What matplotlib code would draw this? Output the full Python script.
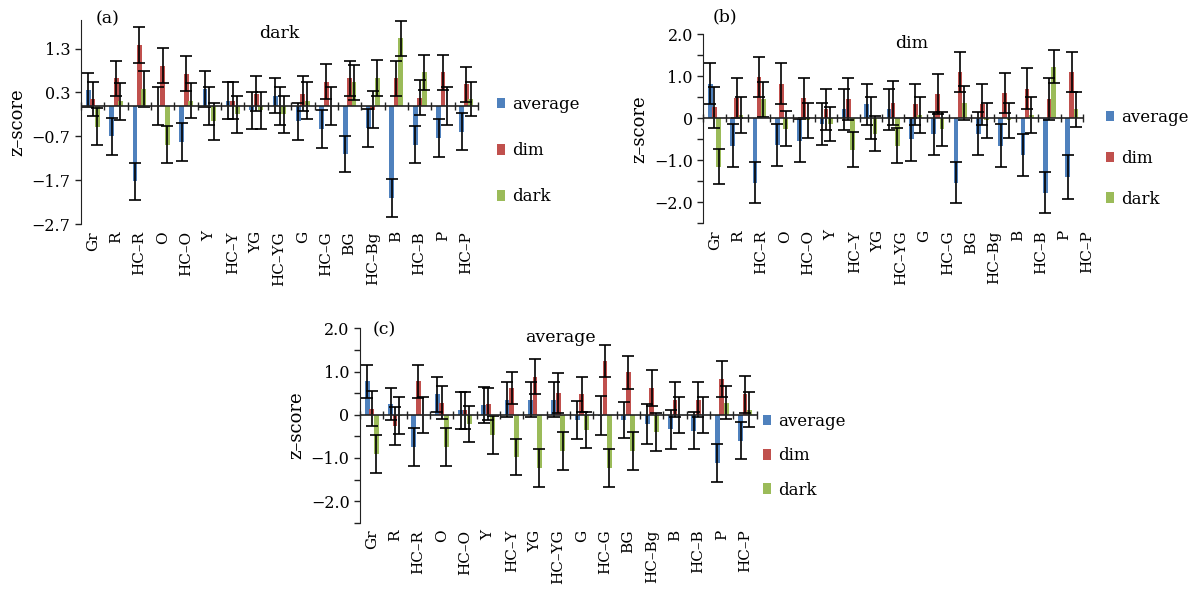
import numpy as np
import matplotlib.pyplot as plt
import matplotlib.transforms as mtransforms

plt.rcParams['font.family'] = ['DejaVu Serif']

categorias = ['Gr', 'R', 'HC–R', 'O', 'HC–O', 'Y', 'HC–Y', 'YG', 'HC–YG', 'G',
              'HC–G', 'BG', 'HC–Bg', 'B', 'HC–B', 'P', 'HC–P']
series = ['average', 'dim', 'dark']
cores = ['#4F81BD', '#C0504D', '#9BBB59']

# (a) dark
avg_a = [0.36, -0.70, -1.72, 0.00, -0.83, 0.38, 0.11, -0.10, 0.23, -0.36, -0.53, -1.10, -0.50, -2.10, -0.89, -0.74, -0.59]
dim_a = [0.15, 0.62, 1.38, 0.91, 0.73, 0.00, 0.11, 0.27, 0.00, 0.27, 0.55, 0.62, -0.09, 0.62, 0.18, 0.76, 0.49]
dark_a = [-0.48, 0.10, 0.38, -0.89, 0.11, -0.36, -0.20, -0.10, -0.20, 0.11, 0.00, 0.53, 0.64, 1.53, 0.76, 0.00, 0.15]
err_avg_a = [0.39, 0.43, 0.42, 0.43, 0.43, 0.41, 0.42, 0.42, 0.40, 0.42, 0.43, 0.42, 0.43, 0.44, 0.42, 0.43, 0.43]
err_dim_a = [0.39, 0.40, 0.40, 0.40, 0.40, 0.43, 0.42, 0.40, 0.43, 0.40, 0.40, 0.40, 0.42, 0.40, 0.40, 0.40, 0.40]
err_dark_a = [0.42, 0.42, 0.41, 0.42, 0.40, 0.42, 0.43, 0.42, 0.43, 0.42, 0.43, 0.40, 0.41, 0.40, 0.40, 0.43, 0.39]

# (b) dim
avg_b = [0.82, -0.65, -1.53, -0.63, -0.53, -0.13, 0.21, 0.33, 0.21, -0.50, -0.37, -1.53, -0.37, -0.65, -0.87, -1.77, -1.39]
dim_b = [0.26, 0.49, 0.98, 0.82, 0.49, 0.21, 0.46, 0.00, 0.36, 0.33, 0.58, 1.10, 0.33, 0.61, 0.70, 0.46, 1.10]
dark_b = [-1.15, 0.08, 0.45, -0.25, -0.05, -0.13, -0.75, -0.37, -0.65, 0.08, -0.25, 0.36, -0.05, -0.05, 0.08, 1.23, 0.21]
err_avg_b = [0.49, 0.52, 0.49, 0.50, 0.51, 0.50, 0.48, 0.48, 0.48, 0.51, 0.51, 0.49, 0.51, 0.52, 0.50, 0.49, 0.52]
err_dim_b = [0.49, 0.48, 0.48, 0.49, 0.48, 0.48, 0.51, 0.50, 0.52, 0.48, 0.48, 0.48, 0.48, 0.48, 0.49, 0.51, 0.48]
err_dark_b = [0.41, 0.42, 0.42, 0.42, 0.42, 0.41, 0.42, 0.42, 0.42, 0.42, 0.41, 0.41, 0.42, 0.42, 0.42, 0.40, 0.42]

# (c) average
avg_c = [0.77, 0.25, -0.75, 0.47, 0.10, 0.22, 0.35, 0.35, 0.35, -0.12, -0.02, -0.13, -0.22, -0.34, -0.37, -1.12, -0.60]
dim_c = [0.14, -0.25, 0.77, 0.28, 0.10, 0.25, 0.62, 0.88, 0.50, 0.47, 1.25, 0.98, 0.62, 0.35, 0.35, 0.83, 0.47]
dark_c = [-0.90, -0.02, 0.00, -0.75, -0.22, -0.48, -0.98, -1.23, -0.85, -0.36, -1.23, -0.85, -0.40, 0.00, 0.00, 0.28, 0.12]
err_avg_c = [0.38, 0.38, 0.44, 0.40, 0.42, 0.42, 0.40, 0.40, 0.40, 0.44, 0.45, 0.42, 0.46, 0.46, 0.43, 0.44, 0.43]
err_dim_c = [0.41, 0.44, 0.38, 0.38, 0.42, 0.38, 0.38, 0.41, 0.46, 0.40, 0.37, 0.38, 0.41, 0.40, 0.40, 0.41, 0.42]
err_dark_c = [0.44, 0.42, 0.42, 0.44, 0.42, 0.44, 0.42, 0.44, 0.44, 0.42, 0.44, 0.44, 0.44, 0.42, 0.42, 0.38, 0.40]

ticks_a = [1.3, 0.3, -0.7, -1.7, -2.7]
ticks_bc = [2.0, 1.0, 0.0, -1.0, -2.0]
rotulos_bc = ['2.0', '1.0', '0', '−1.0', '−2.0']


def painel(ax, valores, erros, titulo, letra, pos_titulo, pos_letra, esticar=None):
    x = np.arange(len(categorias))
    larg = 0.21
    for i, (v, e) in enumerate(zip(valores, erros)):
        xi = x + (i - 1) * 0.19
        ax.bar(xi, v, larg, color=cores[i], label=series[i], zorder=2)
        ax.errorbar(xi, v, yerr=e, fmt='none', ecolor='black', elinewidth=1.2,
                    capsize=4, capthick=1.2, zorder=3)
    # eixo x no zero, com marcas entre as categorias
    ax.axhline(0, color='#222222', lw=1.2, zorder=4)
    limites = np.arange(len(categorias) + 1) - 0.5
    ax.plot(limites, np.zeros_like(limites), ls='none', marker='|', ms=6,
            mew=1.0, color='#222222', zorder=4, clip_on=False)
    ax.set_xlim(-0.5, len(categorias) - 0.5)
    if esticar is None:
        ax.set_xticks(x)
        ax.set_xticklabels(categorias, rotation=90, fontsize=11)
    else:
        # no painel (b) os rotulos ficam um pouco mais espacados que as barras
        ax.set_xticks([])
        trans = mtransforms.blended_transform_factory(ax.transData, ax.transAxes)
        for xi, rot in zip(esticar[0] + esticar[1] * x, categorias):
            ax.annotate(rot, xy=(xi, 0), xycoords=trans, xytext=(0, -5),
                        textcoords='offset points', rotation=90, ha='center',
                        va='top', fontsize=11, annotation_clip=False)
    ax.tick_params(axis='x', length=0, pad=5)
    ax.tick_params(axis='y', direction='out', length=4, width=1, labelsize=11.5,
                   color='#222222')
    ax.tick_params(axis='y', which='minor', direction='out', length=4, width=1,
                   color='#222222')
    for lado in ['top', 'right', 'bottom']:
        ax.spines[lado].set_visible(False)
    ax.spines['left'].set_color('#222222')
    ax.set_ylabel('z–score', fontsize=13, labelpad=4)
    ax.text(pos_titulo[0], pos_titulo[1], titulo, transform=ax.transAxes,
            ha='center', va='center', fontsize=12.5)
    ax.text(pos_letra[0], pos_letra[1], letra, transform=ax.transAxes,
            ha='center', va='center', fontsize=12.5)


fig = plt.figure(figsize=(12.04, 6.02), dpi=100)
fig.patch.set_facecolor('white')

ax_a = fig.add_axes([0.0673, 0.6274, 0.3297, 0.3394])
ax_b = fig.add_axes([0.5841, 0.6291, 0.3154, 0.3139])
ax_c = fig.add_axes([0.2990, 0.1317, 0.3295, 0.3229])

painel(ax_a, [avg_a, dim_a, dark_a], [err_avg_a, err_dim_a, err_dark_a],
       'dark', '(a)', (0.50, 0.936), (0.068, 1.005))
ax_a.set_ylim(-2.7, 1.95)
ax_a.set_yticks(ticks_a)
ax_a.set_yticklabels([f'{t:.1f}'.replace('-', '−') for t in ticks_a])

painel(ax_b, [avg_b, dim_b, dark_b], [err_avg_b, err_dim_b, err_dark_b],
       'dim', '(b)', (0.55, 0.954), (0.058, 1.09), esticar=(0.02, 1.043))
ax_b.set_ylim(-2.5, 2.0)
ax_b.set_yticks(ticks_bc)
ax_b.set_yticklabels(rotulos_bc)
ax_b.set_yticks(np.arange(-2.5, 2.01, 0.5), minor=True)

painel(ax_c, [avg_c, dim_c, dark_c], [err_avg_c, err_dim_c, err_dark_c],
       'average', '(c)', (0.504, 0.955), (0.06, 0.991))
ax_c.set_ylim(-2.5, 2.0)
ax_c.set_yticks(ticks_bc)
ax_c.set_yticklabels(rotulos_bc)
ax_c.set_yticks(np.arange(-2.5, 2.01, 0.5), minor=True)

# legendas
for ax, ancora, espaco in [(ax_a, (0.4128, 0.8405), 1.75),
                           (ax_b, (0.9186, 0.819), 1.43),
                           (ax_c, (0.6337, 0.314), 1.04)]:
    h, l = ax.get_legend_handles_labels()
    fig.legend(h, l, loc='upper left', bbox_to_anchor=ancora, frameon=False,
               fontsize=12, handlelength=0.5, handleheight=0.6, handletextpad=0.4,
               labelspacing=espaco, borderpad=0, borderaxespad=0)

plt.savefig('out.png', dpi=100)
